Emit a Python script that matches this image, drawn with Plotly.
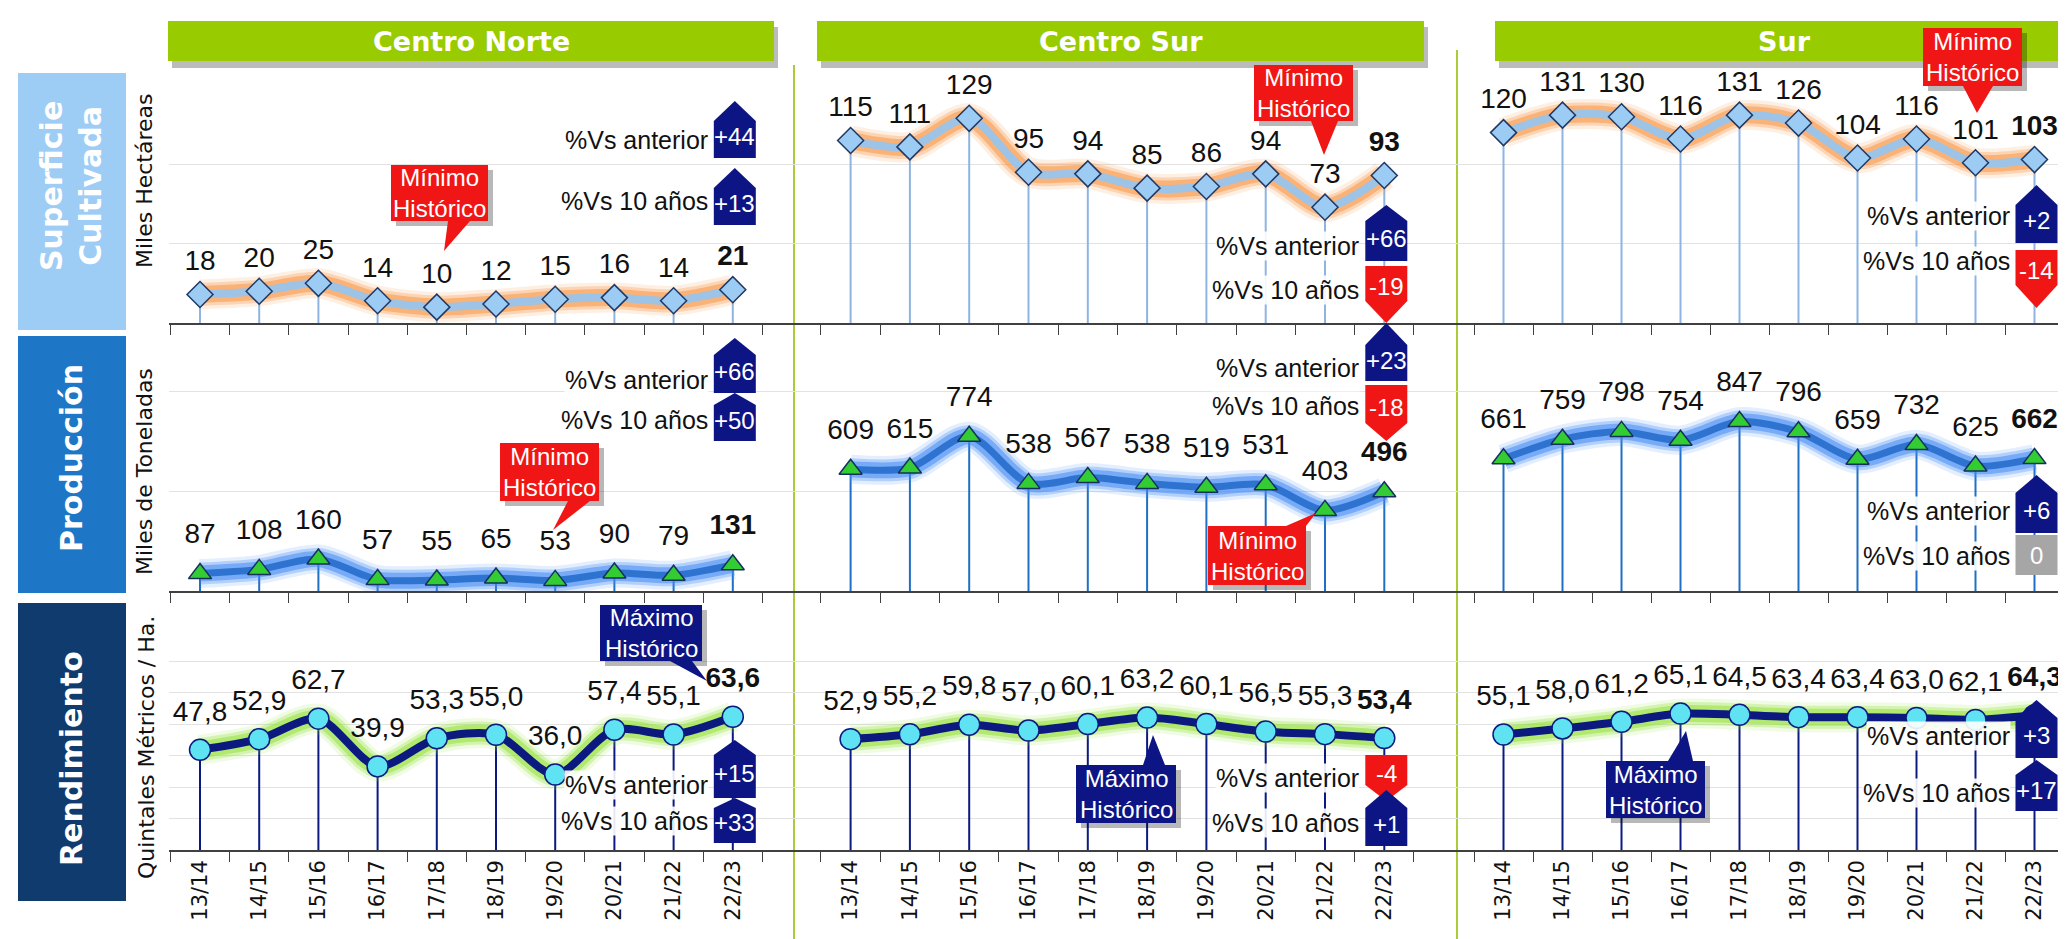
import plotly.graph_objects as go

W, H = 2066, 939

# ---------------- data ----------------
seasons = ["13/14", "14/15", "15/16", "16/17", "17/18", "18/19", "19/20", "20/21", "21/22", "22/23"]
regions = ["Centro Norte", "Centro Sur", "Sur"]
row_titles = ["Superficie<br>Cultivada", "Producción", "Rendimiento"]
unit_titles = ["Miles Hectáreas", "Miles de Toneladas", "Quintales Métricos / Ha."]

superficie_cn = [18, 20, 25, 14, 10, 12, 15, 16, 14, 21]
superficie_cs = [115, 111, 129, 95, 94, 85, 86, 94, 73, 93]
superficie_sur = [120, 131, 130, 116, 131, 126, 104, 116, 101, 103]

produccion_cn = [87, 108, 160, 57, 55, 65, 53, 90, 79, 131]
produccion_cs = [609, 615, 774, 538, 567, 538, 519, 531, 403, 496]
produccion_sur = [661, 759, 798, 754, 847, 796, 659, 732, 625, 662]

rendimiento_cn = [47.8, 52.9, 62.7, 39.9, 53.3, 55.0, 36.0, 57.4, 55.1, 63.6]
rendimiento_cs = [52.9, 55.2, 59.8, 57.0, 60.1, 63.2, 60.1, 56.5, 55.3, 53.4]
rendimiento_sur = [55.1, 58.0, 61.2, 65.1, 64.5, 63.4, 63.4, 63.0, 62.1, 64.3]

vs_anterior_sup = [44, 66, 2]
vs_10_sup = [13, -19, -14]
vs_anterior_prod = [66, 23, 6]
vs_10_prod = [50, -18, 0]
vs_anterior_rend = [15, -4, 3]
vs_10_rend = [33, 1, 17]

record_labels = ["Mínimo<br>Histórico", "Máximo<br>Histórico"]

values = [[superficie_cn, superficie_cs, superficie_sur],
          [produccion_cn, produccion_cs, produccion_sur],
          [rendimiento_cn, rendimiento_cs, rendimiento_sur]]
vs_ant = [vs_anterior_sup, vs_anterior_prod, vs_anterior_rend]
vs_10 = [vs_10_sup, vs_10_prod, vs_10_rend]

# ---------------- geometry / styles ----------------
cols = [dict(c0=192.0, s=59.2, L=161, R=786),
        dict(c0=842.6, s=59.3, L=786, R=1449),
        dict(c0=1495.5, s=59.0, L=1449, R=2057)]
rows = [dict(top=77, bot=315, rng=[0, 150], dtick=50),
        dict(top=325, bot=583, rng=[0, 1290], dtick=500),
        dict(top=622, bot=842, rng=[0, 105], dtick=15)]
styles = [
    dict(line="#9DC3E6", lw=8, glow="rgba(247,150,70,{a})", sym="diamond", ms=20,
         mfill="#9CCBF3", mline="#1F3864", drop="#8DB4E2", lab=26),
    dict(line="#2E73D0", lw=7, glow="rgba(70,140,245,{a})", sym="triangle-up", ms=20,
         mfill="#33CC33", mline="#16305E", drop="#1F6FC5", lab=36),
    dict(line="#0C1A80", lw=8, glow="rgba(150,225,60,{a})", sym="circle", ms=21,
         mfill="#5FE3F2", mline="#0C1A80", drop="#0C1A80", lab=34),
]

LAB_FONT = "Liberation Sans, Arial, sans-serif"
VER_FONT = "DejaVu Sans, Verdana, sans-serif"
NAVY = "#0D1585"
RED = "#F01616"
GRAY = "#A6A6A6"


def X(p):
    return p / W


def Y(p):
    return 1 - p / H


def fmt(v, r):
    return f"{v:.1f}".replace(".", ",") if r == 2 else f"{int(v)}"


fig = go.Figure()
axes = {}
shapes = []
annotations = []

for r in range(3):
    for c in range(3):
        k = r * 3 + c + 1
        xa = "x" if k == 1 else f"x{k}"
        ya = "y" if k == 1 else f"y{k}"
        col, row, st = cols[c], rows[r], styles[r]
        vals = values[r][c]
        common = dict(x=seasons, y=vals, xaxis=xa, yaxis=ya, hoverinfo="skip", showlegend=False)
        # drop lines to the axis
        fig.add_trace(go.Scatter(**common, mode="markers",
                                 marker=dict(size=1, color="rgba(0,0,0,0)"),
                                 error_y=dict(type="data", symmetric=False, array=[0] * len(vals),
                                              arrayminus=vals, color=st["drop"], thickness=2, width=0)))
        # glow
        for extra, a in ((22, 0.15), (15, 0.3), (9, 0.55)):
            fig.add_trace(go.Scatter(**common, mode="lines",
                                     line=dict(color=st["glow"].format(a=a), width=st["lw"] + extra,
                                               shape="spline", smoothing=0.8)))
        # main line
        fig.add_trace(go.Scatter(**common, mode="lines",
                                 line=dict(color=st["line"], width=st["lw"], shape="spline", smoothing=0.8)))
        # markers
        fig.add_trace(go.Scatter(**common, mode="markers",
                                 marker=dict(symbol=st["sym"], size=st["ms"], color=st["mfill"],
                                             line=dict(color=st["mline"], width=1.5))))
        # value labels
        texts = [fmt(v, r) for v in vals]
        texts[-1] = f"<b>{texts[-1]}</b>"
        fig.add_trace(go.Scatter(**common, mode="markers+text", text=texts, textposition="top center",
                                 cliponaxis=False,
                                 marker=dict(size=st["lab"], color="rgba(0,0,0,0)"),
                                 textfont=dict(family=LAB_FONT, size=28, color="#111111")))

        x0 = (col["L"] - col["c0"]) / col["s"]
        x1 = (col["R"] - col["c0"]) / col["s"]
        axes["xaxis" if k == 1 else f"xaxis{k}"] = dict(
            domain=[X(col["L"]), X(col["R"])], anchor=ya, type="category",
            categoryorder="array", categoryarray=seasons, range=[x0, x1], autorange=False,
            showgrid=False, zeroline=False, showline=True, linecolor="#404040", linewidth=1.5,
            ticks="outside", ticklen=10, tickwidth=1.2, tickcolor="#404040", tickson="boundaries",
            showticklabels=(r == 2), tickangle=-90,
            tickfont=dict(family=VER_FONT, size=21, color="#111111"), fixedrange=True)
        axes["yaxis" if k == 1 else f"yaxis{k}"] = dict(
            domain=[Y(row["bot"]), Y(row["top"])], anchor=xa, range=row["rng"], autorange=False,
            tick0=0, dtick=row["dtick"], showgrid=True, gridcolor="#E2E2E2", gridwidth=1,
            zeroline=False, showticklabels=False, showline=False, ticks="", fixedrange=True)


def poly(pts, color, line=None):
    d = "M " + " L ".join(f"{X(x):.5f},{Y(y):.5f}" for x, y in pts) + " Z"
    shapes.append(dict(type="path", xref="paper", yref="paper", path=d, fillcolor=color,
                       line=dict(width=0) if line is None else line, layer="above"))


def rect(x0, y0, x1, y1, color, layer="above"):
    shapes.append(dict(type="rect", xref="paper", yref="paper", x0=X(x0), x1=X(x1),
                       y0=Y(y1), y1=Y(y0), fillcolor=color, line=dict(width=0), layer=layer))


def text(x, y, t, size, color, family=LAB_FONT, angle=0, xanchor="center", bg=None):
    annotations.append(dict(x=X(x), y=Y(y), xref="paper", yref="paper", text=t, showarrow=False,
                            font=dict(family=family, size=size, color=color), textangle=angle,
                            xanchor=xanchor, yanchor="middle", align="center",
                            bgcolor=bg, borderpad=0))


# ---------------- header bars ----------------
headers = [(160, 766), (809, 1416), (1487, 2070)]
for (hx0, hx1), name in zip(headers, regions):
    rect(hx0 + 4, 19, hx1 + 4, 60, "rgba(60,60,60,0.35)")
    rect(hx0, 13, hx1, 53, "#99CC00")
    text((hx0 + min(hx1, W)) / 2, 33, f"<b>{name}</b>", 27, "white", family=VER_FONT)

# green dividers
for dx, dy0 in ((786, 57), (1449, 42)):
    shapes.append(dict(type="line", xref="paper", yref="paper", x0=X(dx), x1=X(dx), y0=Y(dy0),
                       y1=Y(935), line=dict(color="#A9CC38", width=2), layer="below"))

# ---------------- row label boxes ----------------
row_boxes = [(65, 322, "#9DCCF5", 178), (328, 585, "#1E76C6", 450), (595, 893, "#0F3B6E", 751)]
for (by0, by1, bc, ty), t in zip(row_boxes, row_titles):
    rect(10, by0, 118, by1, bc)
    text(63, ty, f"<b>{t}</b>", 30, "white", family=VER_FONT, angle=-90)

unit_pos = [(136, 173), (136, 464), (138, 740)]
for (ux, uy), t in zip(unit_pos, unit_titles):
    text(ux, uy, t, 22, "#111111", family=VER_FONT, angle=-90)

# ---------------- %Vs badges ----------------
# per row, per column: (label_y_ant, (top, bottom, depth)), (label_y_10, (top, bottom, depth))
badge_geo = [
    [((132, (93, 150, 20)), (193, (160, 217, 20))),
     ((238, (197, 253, 16)), (282, (258, 315, 22))),
     ((208, (177, 235, 20)), (253, (242, 300, 23)))],
    [((372, (330, 385, 17)), (412, (385, 433, 12))),
     ((360, (315, 373, 22)), (398, (377, 433, 18))),
     ((503, (467, 525, 18)), (548, (527, 567, 0)))],
    [((777, (732, 790, 15)), (813, (790, 835, 10))),
     ((770, (747, 793, 16)), (815, (782, 838, 18))),
     ((728, (692, 750, 18)), (785, (752, 803, 15)))],
]
for r in range(3):
    for c in range(3):
        col = cols[c]
        xm = col["c0"] + (len(seasons) - 1) * col["s"] + 2
        bx0, bx1 = xm - 21, xm + 21
        for (ly, (top, bot, dep)), label, v in zip(badge_geo[r][c], ["%Vs anterior", "%Vs 10 años"],
                                                   [vs_ant[r][c], vs_10[r][c]]):
            text(bx0 - 5, ly, label, 25, "#111111", xanchor="right", bg="rgba(255,255,255,0.9)")
            if v > 0:
                poly([(bx0, bot), (bx0, top + dep), (xm, top), (bx1, top + dep), (bx1, bot)], NAVY)
                ty = (top + dep + bot) / 2 - 3
                t = f"+{v}"
            elif v < 0:
                poly([(bx0, top), (bx1, top), (bx1, bot - dep), (xm, bot), (bx0, bot - dep)], RED)
                ty = (top + bot - dep) / 2 + 3
                t = f"{v}"
            else:
                rect(bx0, top, bx1, bot, GRAY)
                ty = (top + bot) / 2
                t = "0"
            text(xm, ty, t, 24, "white")

# ---------------- record callouts ----------------
# (kind, box x0, y0, x1, y1, pointer base xa, xb, base y, tip x, tip y)
callouts = [
    (0, 383, 157, 480, 213, 440, 462, 213, 436, 243),
    (0, 1246, 57, 1345, 113, 1303, 1330, 113, 1316, 147),
    (0, 1915, 20, 2014, 78, 1955, 1985, 78, 1969, 105),
    (0, 492, 435, 591, 493, 560, 582, 493, 545, 522),
    (0, 1200, 518, 1298, 577, 1278, 1298, 518, 1308, 505),
    (1, 592, 597, 694, 653, 662, 684, 653, 699, 673),
    (1, 1068, 757, 1168, 815, 1135, 1157, 757, 1145, 727),
    (1, 1598, 753, 1697, 810, 1660, 1685, 753, 1678, 723),
]
for kind, x0, y0, x1, y1, pa, pb, pyb, tx, ty in callouts:
    color = RED if kind == 0 else NAVY
    rect(x0 + 5, y0 + 5, x1 + 5, y1 + 5, "rgba(0,0,0,0.28)")
    poly([(pa, pyb), (pb, pyb), (tx, ty)], color)
    rect(x0, y0, x1, y1, color)
    text((x0 + x1) / 2, (y0 + y1) / 2, record_labels[kind], 24, "white")

fig.update_layout(
    width=W, height=H, margin=dict(l=0, r=0, t=0, b=0),
    paper_bgcolor="white", plot_bgcolor="white", showlegend=False, hovermode=False,
    shapes=shapes, annotations=annotations, **axes)

fig.write_html("out.html")
